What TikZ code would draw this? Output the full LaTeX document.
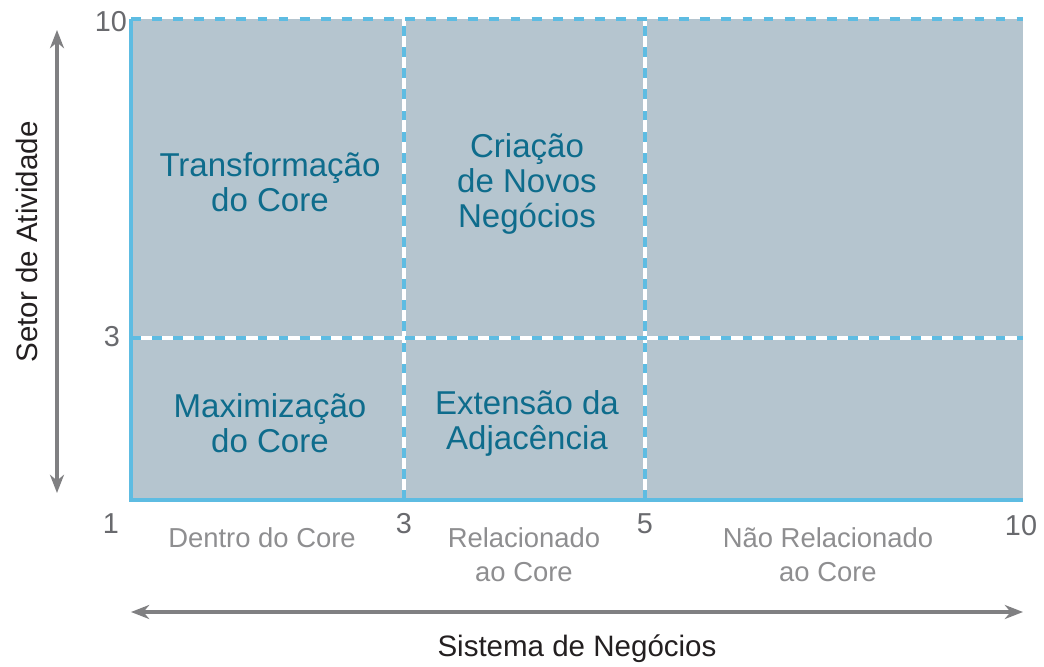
\documentclass[tikz,border=0pt]{standalone}
\usepackage{fontspec}
\setmainfont{Liberation Sans}
\usetikzlibrary{arrows.meta}

\definecolor{gridfill}{RGB}{181,197,207}
\definecolor{gridblue}{RGB}{94,188,226}
\definecolor{quadtext}{RGB}{14,108,140}
\definecolor{axisgray}{RGB}{128,128,130}
\definecolor{ticktext}{RGB}{105,106,110}
\definecolor{catgray}{RGB}{142,142,144}
\definecolor{titletext}{RGB}{35,31,32}

\tikzset{
  quadlabel/.style={align=center, text=quadtext, font=\fontsize{23.5}{25}\selectfont},
  catlabel/.style={align=center, text=catgray, font=\fontsize{19.5}{24.2}\selectfont},
  ticklabel/.style={text=ticktext, font=\fontsize{20.5}{22}\selectfont},
  axistitle/.style={text=titletext, font=\fontsize{21}{24}\selectfont},
  axisarrow/.style={draw=axisgray, line width=2.4pt,
    {Stealth[length=13pt,width=10pt]}-{Stealth[length=13pt,width=10pt]}},
  blueedge/.style={draw=gridblue, line width=2.4pt},
  bluedash/.style={draw=gridblue, line width=2.4pt, dash pattern=on 7pt off 8pt}
}

\begin{document}
\begin{tikzpicture}
  \useasboundingbox (-3.275, -4.15) rectangle (22.825, 12.5);
  % matrix area
  \fill [gridfill] (0, 0) rectangle (22.3, 12.025);
  % dividers
  \draw [white, line width=2.4pt] (6.825, 0) -- (6.825, 12.025);
  \draw [white, line width=2.4pt] (12.85, 0) -- (12.85, 12.025);
  \draw [white, line width=2.4pt] (0, 4.05) -- (22.3, 4.05);
  \draw [bluedash] (6.825, 0) -- (6.825, 12.025);
  \draw [bluedash] (12.85, 0) -- (12.85, 12.025);
  \draw [bluedash] (0, 4.05) -- (22.3, 4.05);
  % border
  \draw [bluedash] (0, 12.025) -- (22.3, 12.025);
  \draw [blueedge] (0, 12.025) -- (0, 0) -- (22.3, 0);
  % quadrants
  \node [quadlabel] (transf) at (3.475, 7.94) {Transformação\\do Core};
  \node [quadlabel] (criacao) at (9.9, 7.9) {Criação\\de Novos\\Negócios};
  \node [quadlabel] (maxim) at (3.475, 1.91) {Maximização\\do Core};
  \node [quadlabel] (extensao) at (9.9, 1.91) {Extensão da\\Adjacência};
  % ticks
  \node [ticklabel] (ytop) at (-0.5, 11.95) {10};
  \node [ticklabel] (ymid) at (-0.475, 4.075) {3};
  \node [ticklabel] (xone) at (-0.5, -0.6) {1};
  \node [ticklabel] (xthree) at (6.825, -0.6) {3};
  \node [ticklabel] (xfive) at (12.85, -0.6) {5};
  \node [ticklabel] (xten) at (22.25, -0.65) {10};
  % categories
  \node [catlabel] (dentro) at (3.275, -0.95) {Dentro do Core};
  \node [catlabel] (relac) at (9.825, -1.37) {Relacionado\\ao Core};
  \node [catlabel] (naorelac) at (17.425, -1.37) {Não Relacionado\\ao Core};
  % axes
  \coordinate (ylow) at (-1.85, 0.175);
  \coordinate (yhigh) at (-1.85, 11.75);
  \coordinate (xlow) at (0, -2.8);
  \coordinate (xhigh) at (22.3, -2.8);
  \draw [axisarrow] (ylow) -- (yhigh);
  \draw [axisarrow] (xlow) -- (xhigh);
  \node [axistitle, rotate=90] (setor) at (-2.6, 6.45) {Setor de Atividade};
  \node [axistitle] (sistema) at (11.15, -3.72) {Sistema de Negócios};
\end{tikzpicture}
\end{document}
